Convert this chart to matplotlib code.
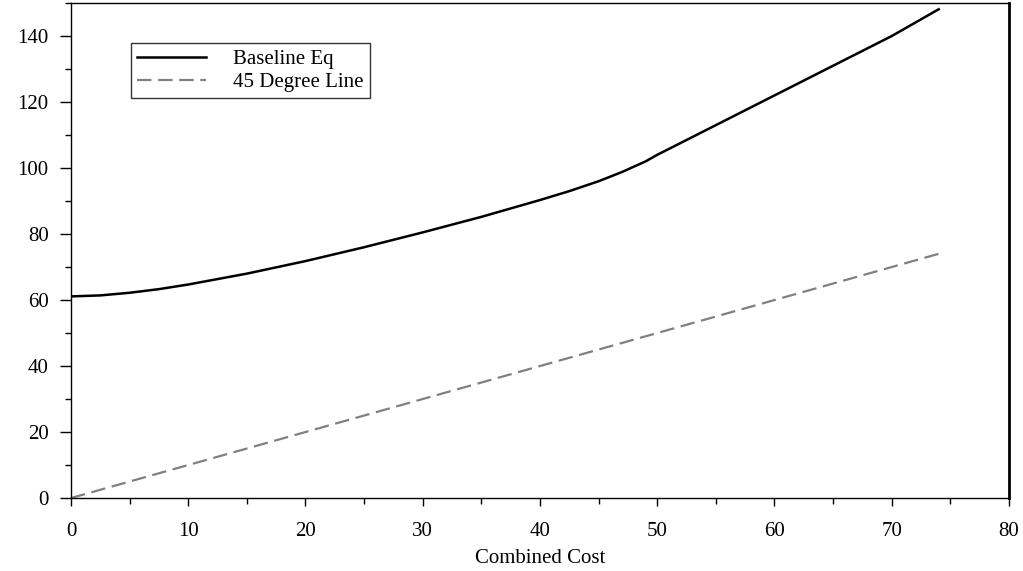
import matplotlib
matplotlib.use("Agg")
import matplotlib.pyplot as plt
from matplotlib.ticker import MultipleLocator

# values
cost = [0, 2.5, 5, 7.5, 10, 15, 20, 25, 30, 35, 40, 42.5, 45, 47, 49, 50, 52,
        55, 60, 65, 70, 74]
baseline_eq = [61.1, 61.4, 62.2, 63.3, 64.7, 68.0, 71.8, 76.0, 80.5, 85.2,
               90.3, 93.0, 96.0, 98.8, 102.0, 104.0, 107.6, 113.0, 122.0,
               131.0, 140.0, 148.1]
line45_x = [0, 74]
line45_y = [0, 74]

plt.rcParams["font.family"] = ["Liberation Serif", "DejaVu Serif"]

fig = plt.figure(figsize=(10.23, 5.71), dpi=100)
ax = fig.add_axes([0.0694, 0.1278, 0.9169, 0.8669])

ax.plot(cost, baseline_eq, color="black", linewidth=1.8, label="Baseline Eq")
ax.plot(line45_x, line45_y, color="#808080", linewidth=1.6, dashes=(6.5, 3),
        label="45 Degree Line")

ax.set_xlim(0, 80)
ax.set_ylim(0, 150)
ax.xaxis.set_major_locator(MultipleLocator(10))
ax.xaxis.set_minor_locator(MultipleLocator(5))
ax.yaxis.set_major_locator(MultipleLocator(20))
ax.yaxis.set_minor_locator(MultipleLocator(10))
ax.set_yticks(range(0, 141, 20))

ax.tick_params(which="major", direction="out", width=1,
               labelsize=15, colors="black")
ax.tick_params(axis="y", which="major", length=8, pad=8)
ax.tick_params(axis="x", which="major", length=6, pad=11)
ax.tick_params(which="minor", direction="out", length=4, width=1)
ax.tick_params(top=False, right=False, which="both")

for side in ["left", "bottom", "top"]:
    ax.spines[side].set_linewidth(1.0)
ax.spines["right"].set_linewidth(2.0)

ax.set_xlabel("Combined Cost", fontsize=15, labelpad=6)

leg = ax.legend(loc="upper left", bbox_to_anchor=(130.7 / 1023, 1 - 43.3 / 571),
                bbox_transform=fig.transFigure, fontsize=15, frameon=True,
                fancybox=False, edgecolor="black", borderpad=0.3,
                handlelength=3.3, handletextpad=1.3, labelspacing=0.15,
                borderaxespad=0)
leg.get_frame().set_linewidth(1.0)

fig.savefig("out.png", dpi=100)
